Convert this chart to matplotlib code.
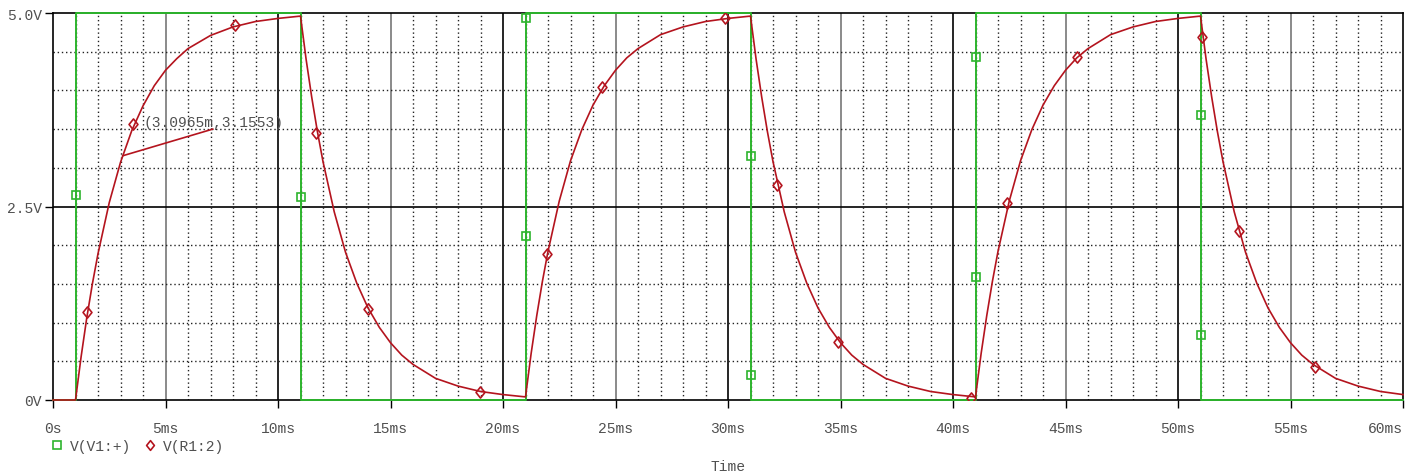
import matplotlib.pyplot as plt
from matplotlib.lines import Line2D
from matplotlib.path import Path

plt.rcParams['font.family'] = ['Liberation Mono', 'DejaVu Sans Mono']

# V(V1:+) pulse source
pulse_t = [0, 1, 1, 11, 11, 21, 21, 31, 31, 41, 41, 51, 51, 60]
pulse_v = [0, 0, 5, 5, 0, 0, 5, 5, 0, 0, 5, 5, 0, 0]

# V(R1:2) capacitor voltage
rc_t = [0, 1, 1.25, 1.5, 1.75, 2, 2.5, 3, 3.5, 4, 4.5, 5, 5.5, 6, 7, 8, 9, 10,
        11, 11.25, 11.5, 11.75, 12, 12.5, 13, 13.5, 14, 14.5, 15, 15.5, 16, 17, 18, 19, 20,
        21, 21.25, 21.5, 21.75, 22, 22.5, 23, 23.5, 24, 24.5, 25, 25.5, 26, 27, 28, 29, 30,
        31, 31.25, 31.5, 31.75, 32, 32.5, 33, 33.5, 34, 34.5, 35, 35.5, 36, 37, 38, 39, 40,
        41, 41.25, 41.5, 41.75, 42, 42.5, 43, 43.5, 44, 44.5, 45, 45.5, 46, 47, 48, 49, 50,
        51, 51.25, 51.5, 51.75, 52, 52.5, 53, 53.5, 54, 54.5, 55, 55.5, 56, 57, 58, 59, 60]
rc_v = [0, 0, 0.56, 1.06, 1.50, 1.89, 2.55, 3.07, 3.48, 3.80, 4.06, 4.26, 4.41, 4.54, 4.71, 4.82, 4.89, 4.93,
        4.96, 4.40, 3.91, 3.47, 3.08, 2.43, 1.91, 1.51, 1.19, 0.94, 0.74, 0.58, 0.46, 0.28, 0.18, 0.11, 0.07,
        0.04, 0.60, 1.09, 1.53, 1.92, 2.57, 3.09, 3.49, 3.81, 4.06, 4.26, 4.42, 4.54, 4.72, 4.82, 4.89, 4.93,
        4.96, 4.40, 3.91, 3.47, 3.08, 2.43, 1.91, 1.51, 1.19, 0.94, 0.74, 0.58, 0.46, 0.28, 0.18, 0.11, 0.07,
        0.04, 0.60, 1.09, 1.53, 1.92, 2.57, 3.09, 3.49, 3.81, 4.06, 4.26, 4.42, 4.54, 4.72, 4.82, 4.89, 4.93,
        4.96, 4.40, 3.91, 3.47, 3.08, 2.43, 1.91, 1.51, 1.19, 0.94, 0.74, 0.58, 0.46, 0.28, 0.18, 0.11, 0.07]

# trace markers
sq_t = [1, 11, 21, 21, 31, 31, 41, 41, 51, 51]
sq_v = [2.65, 2.62, 4.94, 2.12, 3.15, 0.32, 4.43, 1.59, 3.68, 0.84]
dm_t = [1.51, 3.56, 8.09, 11.69, 14.0, 18.98, 21.96, 24.4, 29.87, 32.18, 34.9,
        40.8, 42.4, 45.5, 51.07, 52.7, 56.1]
dm_v = [1.14, 3.57, 4.84, 3.45, 1.18, 0.10, 1.89, 4.04, 4.94, 2.78, 0.75,
        0.03, 2.55, 4.43, 4.69, 2.18, 0.43]

# cursor readout
cursor_t = 3.0965
cursor_v = 3.1553
cursor_label = '(3.0965m,3.1553)'

x_ticks = [0, 5, 10, 15, 20, 25, 30, 35, 40, 45, 50, 55, 60]
x_labels = ['0s', '5ms', '10ms', '15ms', '20ms', '25ms', '30ms', '35ms', '40ms',
            '45ms', '50ms', '55ms', '60ms']
y_ticks = [0, 2.5, 5]
y_labels = ['0V', '2.5V', '5.0V']

GREEN = '#2db42d'
RED = '#b4141e'
TXT = '#505050'

# PSpice style diamond, a bit taller than wide
DIAMOND = Path([(0, -1), (0.8, 0), (0, 1), (-0.8, 0), (0, -1)],
               [Path.MOVETO, Path.LINETO, Path.LINETO, Path.LINETO, Path.CLOSEPOLY])


def main():
    fig = plt.figure(figsize=(14.16, 4.77), dpi=100)
    ax = fig.add_axes([53 / 1416, 1 - 401 / 477, 1350 / 1416, 387 / 477])

    ax.set_xlim(0, 60)
    ax.set_ylim(0, 5)

    # dotted minor grid
    ax.set_xticks([t for t in range(61) if t % 5], minor=True)
    ax.set_yticks([0.5, 1, 1.5, 2, 3, 3.5, 4, 4.5], minor=True)
    ax.grid(which='minor', color='#222222', linestyle=(0, (1, 2)), linewidth=1)
    ax.tick_params(which='minor', length=0)

    # solid major grid
    for t in x_ticks[1:-1]:
        ax.axvline(t, color='black' if t % 10 == 0 else '#777777', linewidth=1.2, zorder=1)
    ax.axhline(2.5, color='black', linewidth=1.2, zorder=1)

    ax.plot(pulse_t, pulse_v, color=GREEN, linewidth=1.4, zorder=3, clip_on=False)
    ax.plot(rc_t, rc_v, color=RED, linewidth=1.2, zorder=4, clip_on=False)
    ax.plot(sq_t, sq_v, ls='none', marker='s', ms=6, mfc='none', mec=GREEN, mew=1.2, zorder=5)
    ax.plot(dm_t, dm_v, ls='none', marker=DIAMOND, ms=8, mfc='none', mec=RED, mew=1.2, zorder=5)

    # cursor label
    ax.plot([cursor_t, 7.1], [cursor_v, 3.5], color=RED, linewidth=1.2, zorder=6)
    ax.text(4.0, 3.59, cursor_label, color=TXT, fontsize=10.5, va='center', ha='left', zorder=7)

    ax.set_xticks(x_ticks)
    ax.set_xticklabels(x_labels)
    ax.get_xticklabels()[-1].set_ha('right')
    ax.set_yticks(y_ticks)
    ax.set_yticklabels(y_labels)
    ax.tick_params(which='major', length=6, width=1, color='black', labelcolor=TXT,
                   labelsize=10.5)
    ax.tick_params(axis='x', which='major', pad=9)
    ax.tick_params(axis='y', which='major', pad=2)
    for s in ax.spines.values():
        s.set_color('black')
        s.set_linewidth(1.2)

    fig.text(728 / 1416, 1 - 467 / 477, 'Time', color=TXT, fontsize=10.5,
             ha='center', va='center')

    handles = [Line2D([], [], ls='none', marker='s', ms=6, mfc='none', mec=GREEN, mew=1.2),
               Line2D([], [], ls='none', marker=DIAMOND, ms=7, mfc='none', mec=RED, mew=1.2)]
    leg = fig.legend(handles, ['V(V1:+)', 'V(R1:2)'], loc='center left',
                     bbox_to_anchor=(0.037, 1 - 447 / 477), ncol=2, frameon=False,
                     handlelength=0.6, handletextpad=0.6, columnspacing=1.0,
                     fontsize=10.5, borderpad=0, borderaxespad=0)
    for txt in leg.get_texts():
        txt.set_color(TXT)

    fig.savefig('out.png', dpi=100)
    plt.close(fig)


if __name__ == '__main__':
    main()
